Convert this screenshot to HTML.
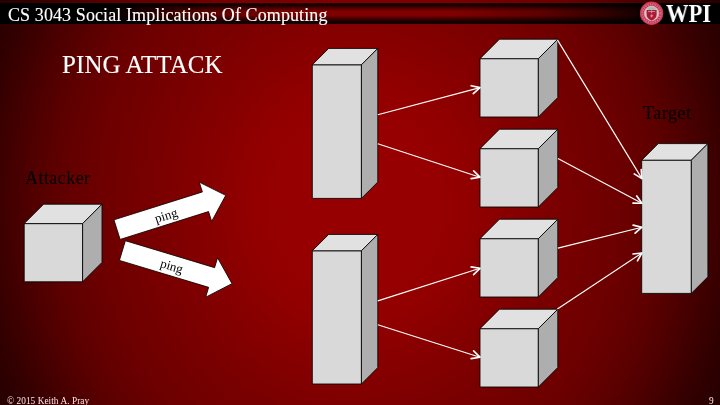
<!DOCTYPE html>
<html lang="en"><head><meta charset="utf-8"><title>Ping Attack</title>
<style>
html,body{margin:0;padding:0;}
body{width:720px;height:405px;overflow:hidden;background:#000;font-family:"Liberation Serif",serif;}
#slide{position:relative;width:720px;height:405px;overflow:hidden;
 background:radial-gradient(ellipse 440px 485px at 358px 202.5px, rgb(151,0,0) 0.00%, rgb(151,0,0) 15.91%, rgb(146,0,0) 25.00%, rgb(137,0,0) 32.05%, rgb(128,0,0) 40.45%, rgb(122,0,0) 45.68%, rgb(108,0,0) 60.00%, rgb(95,0,0) 68.18%, rgb(78,0,0) 75.23%, rgb(60,0,0) 81.82%, rgb(48,0,0) 86.36%, rgb(42,0,0) 90.00%, rgb(37,0,0) 93.86%, rgb(31,0,0) 100.00%);}
#bar{position:absolute;left:0;top:2.7px;width:720px;height:21.3px;
 background:linear-gradient(90deg, #000 0px, #000 95px, rgba(0,0,0,.85) 130px, rgba(0,0,0,.55) 170px, rgba(0,0,0,.3) 210px, rgba(0,0,0,.15) 250px, rgba(0,0,0,.03) 300px, rgba(0,0,0,0) 340px, rgba(0,0,0,0) 450px, rgba(0,0,0,.26) 540px, rgba(0,0,0,.57) 600px, rgba(0,0,0,.8) 636px, #000 642px, #000 720px),
 linear-gradient(180deg, #2a0000 0%, #140000 9%, #500000 24%, #800000 40%, #820000 50%, #7c0000 60%, #400000 76%, #100000 90%, #1a0000 100%);}
.t{position:absolute;white-space:pre;line-height:1;margin:0;will-change:transform;}
#hdr{left:7.5px;top:5.5px;font-size:18px;color:#fff;letter-spacing:0.1px;-webkit-text-stroke:0.12px #fff;}
#title{left:61.8px;top:51.0px;font-size:25px;color:#fff;-webkit-text-stroke:0.12px #fff;letter-spacing:0.08px;transform:scaleY(1.05);transform-origin:0 0;}
#att{left:24.6px;top:169.3px;font-size:18px;color:#000;letter-spacing:0.45px;}
#tgt{left:643.4px;top:103.7px;font-size:18px;color:#000;letter-spacing:0.5px;}
#foot{left:6.7px;top:397px;font-size:9.3px;letter-spacing:0.05px;color:#f6e8e8;}
#pg{left:708.6px;top:397px;font-size:9.3px;color:#f6e8e8;}
#wpi{left:666px;top:0.8px;font-size:25.5px;font-weight:bold;color:#fff;transform:scaleX(0.885);transform-origin:0 0;}
svg{position:absolute;left:0;top:0;will-change:transform;}
svg text{font-family:"Liberation Serif",serif;}
</style></head>
<body>
<div id="slide">
<div id="bar"></div>
<svg width="720" height="405" viewBox="0 0 720 405">
<g stroke="#000" stroke-width="0.85" stroke-linejoin="round"><path d="M24.20,223.60 H82.60 V281.80 H24.20 Z" fill="#d9d9d9"/><path d="M24.20,223.60 L43.60,204.20 H102.00 L82.60,223.60 Z" fill="#e1e1e1"/><path d="M82.60,223.60 L102.00,204.20 V262.40 L82.60,281.80 Z" fill="#aeaeae"/></g>
<g stroke="#000" stroke-width="0.85" stroke-linejoin="round"><path d="M312.30,64.78 H361.43 V198.40 H312.30 Z" fill="#d9d9d9"/><path d="M312.30,64.78 L328.68,48.40 H377.80 L361.43,64.78 Z" fill="#e1e1e1"/><path d="M361.43,64.78 L377.80,48.40 V182.03 L361.43,198.40 Z" fill="#aeaeae"/></g>
<g stroke="#000" stroke-width="0.85" stroke-linejoin="round"><path d="M312.30,250.78 H361.43 V384.00 H312.30 Z" fill="#d9d9d9"/><path d="M312.30,250.78 L328.68,234.40 H377.80 L361.43,250.78 Z" fill="#e1e1e1"/><path d="M361.43,250.78 L377.80,234.40 V367.62 L361.43,384.00 Z" fill="#aeaeae"/></g>
<g stroke="#000" stroke-width="0.85" stroke-linejoin="round"><path d="M480.00,58.65 H538.35 V117.00 H480.00 Z" fill="#d9d9d9"/><path d="M480.00,58.65 L499.45,39.20 H557.80 L538.35,58.65 Z" fill="#e1e1e1"/><path d="M538.35,58.65 L557.80,39.20 V97.55 L538.35,117.00 Z" fill="#aeaeae"/></g>
<g stroke="#000" stroke-width="0.85" stroke-linejoin="round"><path d="M480.00,148.65 H538.35 V207.00 H480.00 Z" fill="#d9d9d9"/><path d="M480.00,148.65 L499.45,129.20 H557.80 L538.35,148.65 Z" fill="#e1e1e1"/><path d="M538.35,148.65 L557.80,129.20 V187.55 L538.35,207.00 Z" fill="#aeaeae"/></g>
<g stroke="#000" stroke-width="0.85" stroke-linejoin="round"><path d="M480.00,238.65 H538.35 V297.00 H480.00 Z" fill="#d9d9d9"/><path d="M480.00,238.65 L499.45,219.20 H557.80 L538.35,238.65 Z" fill="#e1e1e1"/><path d="M538.35,238.65 L557.80,219.20 V277.55 L538.35,297.00 Z" fill="#aeaeae"/></g>
<g stroke="#000" stroke-width="0.85" stroke-linejoin="round"><path d="M480.00,328.65 H538.35 V387.00 H480.00 Z" fill="#d9d9d9"/><path d="M480.00,328.65 L499.45,309.20 H557.80 L538.35,328.65 Z" fill="#e1e1e1"/><path d="M538.35,328.65 L557.80,309.20 V367.55 L538.35,387.00 Z" fill="#aeaeae"/></g>
<g stroke="#000" stroke-width="0.85" stroke-linejoin="round"><path d="M641.70,160.15 H691.35 V293.40 H641.70 Z" fill="#d9d9d9"/><path d="M641.70,160.15 L658.25,143.60 H707.90 L691.35,160.15 Z" fill="#e1e1e1"/><path d="M691.35,160.15 L707.90,143.60 V276.85 L691.35,293.40 Z" fill="#aeaeae"/></g>
<path d="M377.80,114.80 L480.00,87.60" fill="none" stroke="#fff" stroke-width="1.15"/><path d="M473.30,93.61 L480.00,87.60 L471.20,85.71" fill="none" stroke="#fff" stroke-width="1.65" stroke-linecap="round" stroke-linejoin="round"/>
<path d="M377.80,143.70 L480.00,177.20" fill="none" stroke="#fff" stroke-width="1.15"/><path d="M471.11,178.58 L480.00,177.20 L473.65,170.82" fill="none" stroke="#fff" stroke-width="1.65" stroke-linecap="round" stroke-linejoin="round"/>
<path d="M377.80,300.90 L480.00,268.30" fill="none" stroke="#fff" stroke-width="1.15"/><path d="M473.60,274.63 L480.00,268.30 L471.12,266.84" fill="none" stroke="#fff" stroke-width="1.65" stroke-linecap="round" stroke-linejoin="round"/>
<path d="M377.80,324.70 L480.00,357.20" fill="none" stroke="#fff" stroke-width="1.15"/><path d="M471.12,358.66 L480.00,357.20 L473.60,350.88" fill="none" stroke="#fff" stroke-width="1.65" stroke-linecap="round" stroke-linejoin="round"/>
<path d="M557.40,39.90 L641.90,178.60" fill="none" stroke="#fff" stroke-width="1.15"/><path d="M634.24,173.88 L641.90,178.60 L641.22,169.63" fill="none" stroke="#fff" stroke-width="1.65" stroke-linecap="round" stroke-linejoin="round"/>
<path d="M557.90,158.40 L641.90,203.30" fill="none" stroke="#fff" stroke-width="1.15"/><path d="M632.90,203.12 L641.90,203.30 L636.75,195.92" fill="none" stroke="#fff" stroke-width="1.65" stroke-linecap="round" stroke-linejoin="round"/>
<path d="M557.90,248.10 L641.90,227.20" fill="none" stroke="#fff" stroke-width="1.15"/><path d="M635.10,233.10 L641.90,227.20 L633.13,225.17" fill="none" stroke="#fff" stroke-width="1.65" stroke-linecap="round" stroke-linejoin="round"/>
<path d="M557.40,309.10 L641.90,253.00" fill="none" stroke="#fff" stroke-width="1.15"/><path d="M637.48,260.84 L641.90,253.00 L632.96,254.03" fill="none" stroke="#fff" stroke-width="1.65" stroke-linecap="round" stroke-linejoin="round"/>
<g transform="translate(171.40,212.50) rotate(-17.5)"><path d="M-57.00,-10.30 L35.70,-10.30 L35.70,-20.60 L57.00,0.00 L35.70,20.60 L35.70,10.30 L-57.00,10.30 Z" fill="#fff" stroke="#1a0000" stroke-width="0.8" stroke-linejoin="miter"/><text x="-6.0" y="5.5" text-anchor="middle" font-size="13" fill="#000">ping</text></g>
<g transform="translate(177.20,267.10) rotate(16.8)"><path d="M-57.25,-10.30 L35.95,-10.30 L35.95,-20.60 L57.25,0.00 L35.95,20.60 L35.95,10.30 L-57.25,10.30 Z" fill="#fff" stroke="#1a0000" stroke-width="0.8" stroke-linejoin="miter"/><text x="-5.5" y="5.0" text-anchor="middle" font-size="13" fill="#000">ping</text></g>
<g id="seal">
<circle cx="651.6" cy="13.3" r="11.7" fill="#c03550"/>
<circle cx="651.6" cy="13.4" r="10.6" fill="none" stroke="#d4566e" stroke-width="0.7"/>
<circle cx="651.6" cy="13.4" r="9.1" fill="none" stroke="#e58a9c" stroke-width="1.7" stroke-dasharray="1.3 1.1" opacity="0.75"/>
<circle cx="651.6" cy="13.4" r="7.3" fill="#d6c6c9" stroke="#eab0bc" stroke-width="0.7"/>
<ellipse cx="651.6" cy="8.6" rx="4.2" ry="1.5" fill="#a9b7b1"/>
<path d="M646.6,10 H656.6 V14.6 Q656.6,18.6 651.6,20.6 Q646.6,18.6 646.6,14.6 Z" fill="#a51c36"/>
<path d="M648,11.6 H655.2 M651.6,10.2 V13.2" stroke="#d9a3ad" stroke-width="0.8" fill="none"/>
<circle cx="651.6" cy="16" r="1.7" fill="#d23a58"/>
<path d="M650.9,15.2 H652.3 L651.3,17" stroke="#f0d6da" stroke-width="0.6" fill="none"/>
</g>
</svg>
<div class="t" id="hdr">CS 3043 Social Implications Of Computing</div>
<div class="t" id="wpi">WPI</div>
<h1 class="t" id="title" style="font-weight:normal">PING ATTACK</h1>
<div class="t" id="att">Attacker</div>
<div class="t" id="tgt">Target</div>
<div class="t" id="foot">© 2015 Keith A. Pray</div>
<div class="t" id="pg">9</div>
</div>
</body></html>
